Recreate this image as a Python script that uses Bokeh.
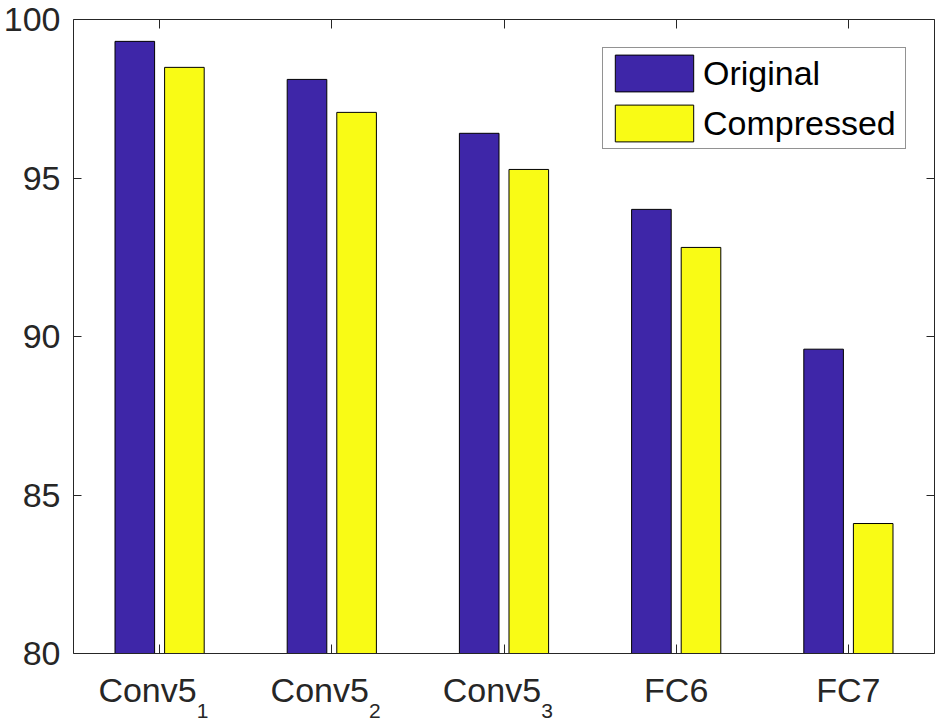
from bokeh.plotting import figure
from bokeh.models import (Range1d, FixedTicker, LinearAxis, ColumnDataSource,
                          CustomJSTickFormatter, Legend, LegendItem)
from bokeh.transform import dodge
from bokeh.embed import file_html
from bokeh.resources import INLINE

# ---- data ----
categories = ["Conv5_1", "Conv5_2", "Conv5_3", "FC6", "FC7"]
label_main = ["Conv5", "Conv5", "Conv5", "FC6", "FC7"]
label_sub = ["1", "2", "3", "", ""]
original = [99.31, 98.11, 96.41, 94.01, 89.60]
compressed = [98.49, 97.07, 95.27, 92.81, 84.10]
series_names = ["Original", "Compressed"]
y_ticks = [80, 85, 90, 95, 100]
y_min, y_max = 80, 100

FONT = "Liberation Sans"
FS = "34px"
AX = "#262626"
C_ORIG = "#3E26A8"
C_COMP = "#F9FB15"
MAIN_SHIFT = -0.07   # category-label shift (in category widths) when a subscript follows
SUB_SHIFT = 0.25     # subscript position relative to category centre

x_pos = list(range(1, len(categories) + 1))

p = figure(x_range=Range1d(x_pos[0] - 0.5, x_pos[-1] + 0.5), y_range=Range1d(y_min, y_max),
           frame_width=861, frame_height=634,
           min_border_left=70, min_border_top=19, min_border_bottom=72, min_border_right=4,
           x_axis_location=None, y_axis_location=None,
           output_backend="svg", toolbar_location=None)
p.outline_line_color = None
p.background_fill_color = "white"
p.border_fill_color = "white"
p.grid.visible = False

src = ColumnDataSource(dict(pos=x_pos, cat=categories, orig=original, comp=compressed,
                            base=[y_min] * len(categories)))
r1 = p.vbar(x=dodge("pos", -0.144), top="orig", bottom="base", width=0.23,
            source=src, fill_color=C_ORIG, line_color="black", line_width=1)
r2 = p.vbar(x=dodge("pos", 0.144), top="comp", bottom="base", width=0.23,
            source=src, fill_color=C_COMP, line_color="black", line_width=1)

# axes (box with inward ticks)
common = dict(axis_line_color=AX, major_tick_line_color=AX, axis_line_width=1,
              major_tick_line_width=1, major_tick_out=0, minor_tick_in=0, minor_tick_out=0)
hidden = dict(major_label_standoff=0, major_label_text_font_size="1px",
              major_label_text_color=None)
left = LinearAxis(ticker=FixedTicker(ticks=y_ticks), major_tick_in=8, major_label_standoff=13,
                  major_label_text_font=FONT, major_label_text_font_size=FS,
                  major_label_text_color=AX, **common)
right = LinearAxis(ticker=FixedTicker(ticks=y_ticks), major_tick_in=8,
                   major_label_overrides={t: "" for t in y_ticks}, **hidden, **common)
below = LinearAxis(ticker=FixedTicker(ticks=x_pos), major_tick_in=9,
                   major_label_overrides={x: "" for x in x_pos}, **hidden, **common)
above = LinearAxis(ticker=FixedTicker(ticks=x_pos), major_tick_in=9,
                   major_label_overrides={x: "" for x in x_pos}, **hidden, **common)
p.add_layout(left, "left")
p.add_layout(right, "right")
p.add_layout(below, "below")
p.add_layout(above, "above")

# category labels: main text axis + subscript axis stacked below the tick axis
main_pos = [x + (MAIN_SHIFT if s else 0.0) for x, s in zip(x_pos, label_sub)]
sub_pos = [x + SUB_SHIFT for x, s in zip(x_pos, label_sub) if s]
sub_txt = [s for s in label_sub if s]
bare = dict(axis_line_color=None, major_tick_line_color=None, minor_tick_line_color=None,
            major_tick_in=0, major_tick_out=0, minor_tick_in=0, minor_tick_out=0)
main_axis = LinearAxis(ticker=FixedTicker(ticks=main_pos),
                       formatter=CustomJSTickFormatter(args=dict(labels=label_main),
                                                       code="return labels[index];"),
                       major_label_standoff=17, major_label_text_font=FONT,
                       major_label_text_font_size=FS, major_label_text_color=AX, **bare)
sub_axis = LinearAxis(ticker=FixedTicker(ticks=sub_pos),
                      formatter=CustomJSTickFormatter(args=dict(labels=sub_txt),
                                                      code="return labels[index];"),
                      major_label_standoff=-8, major_label_text_font=FONT,
                      major_label_text_font_size="21px", major_label_text_color=AX, **bare)
p.add_layout(main_axis, "below")
p.add_layout(sub_axis, "below")

legend = Legend(items=[LegendItem(label=series_names[0], renderers=[r1]),
                       LegendItem(label=series_names[1], renderers=[r2])],
                location="top_right", margin=28, padding=2, spacing=4,
                glyph_width=98, glyph_height=46, label_standoff=0, label_width=200,
                label_text_font=FONT, label_text_font_size=FS, label_text_color="black",
                border_line_color=AX, border_line_width=1,
                background_fill_color="white", background_fill_alpha=1.0)
p.add_layout(legend)

open("out.html", "w").write(file_html(p, INLINE))
